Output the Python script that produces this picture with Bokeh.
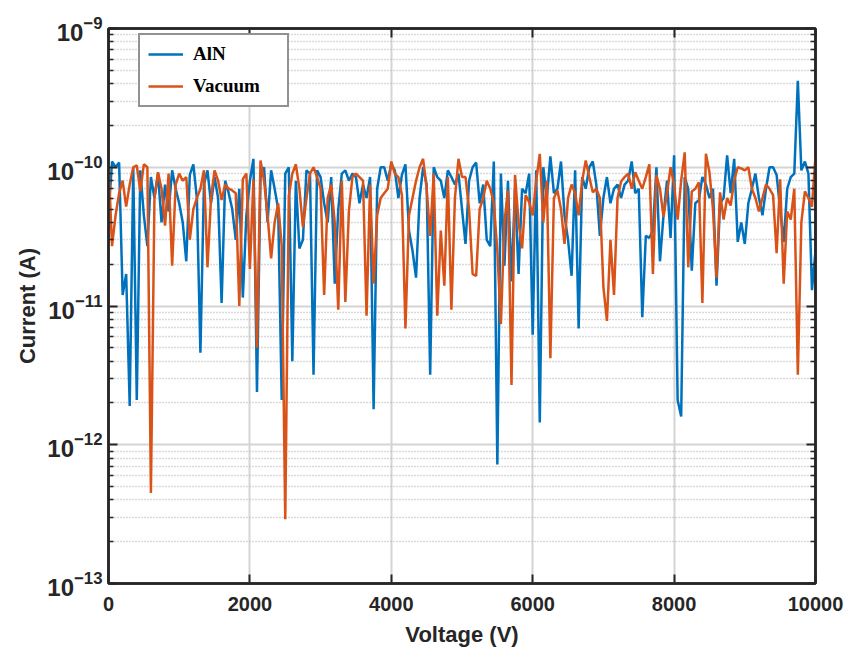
from bokeh.plotting import figure
from bokeh.models import (Range1d, LinearAxis, LogAxis, FixedTicker, Legend,
                          LegendItem)
from bokeh.embed import file_html
from bokeh.resources import INLINE

# Sweep voltage (V), one reading every 50 V
voltage = list(range(0, 10001, 50))

# Leakage current in pA for each voltage step
aln_pA = [
    45, 110, 100, 108, 12, 17, 1.9, 100, 2.1, 95,
    45, 27, 85, 60, 90, 40, 75, 48, 95, 70,
    55, 40, 21, 88, 105, 60, 4.6, 75, 95, 55,
    85, 60, 10.5, 80, 65, 50, 30, 70, 11.5, 45,
    80, 115, 2.4, 85, 100, 40, 95, 70, 50, 2.1,
    90, 100, 4, 80, 26, 30, 95, 90, 3.2, 95,
    85, 55, 40, 85, 14.5, 50, 90, 95, 80, 90,
    85, 55, 75, 60, 85, 1.8, 70, 100, 100, 80,
    105, 95, 60, 88, 105, 35, 25, 16, 60, 100,
    75, 3.2, 100, 85, 80, 60, 95, 85, 75, 90,
    50, 28, 80, 100, 108, 55, 75, 30, 27, 110,
    0.72, 90, 19.5, 80, 15, 70, 17, 70, 65, 90,
    6.2, 95, 1.45, 100, 60, 120, 65, 70, 110, 45,
    30, 16.5, 95, 6.9, 85, 70, 100, 110, 75, 32,
    60, 85, 55, 70, 75, 60, 75, 80, 110, 65,
    70, 8.3, 32, 31, 35, 100, 21, 45, 80, 31,
    122, 2.1, 1.6, 85, 70, 18, 55, 58, 85, 75,
    60, 70, 14, 55, 60, 122, 65, 115, 29, 40,
    28, 55, 70, 90, 60, 45, 70, 100, 100, 88,
    50, 29, 70, 85, 90, 420, 95, 110, 90, 13,
    25,
]

vacuum_pA = [
    110, 27, 45, 65, 80, 52, 75, 100, 103, 67,
    105, 100, 0.45, 60, 92, 70, 38, 90, 19.5, 75,
    90, 80, 85, 30, 50, 60, 70, 95, 19, 60,
    95, 80, 58, 75, 70, 68, 65, 10, 82, 90,
    18.5, 82, 5, 112, 80, 45, 22, 40, 55, 27,
    0.29, 62, 90, 105, 70, 37, 60, 90, 100, 85,
    70, 12, 60, 75, 40, 9.4, 80, 10.7, 48, 85,
    90, 85, 80, 8.5, 75, 14.5, 45, 60, 65, 70,
    110, 90, 85, 63, 6.9, 45, 60, 80, 100, 115,
    70, 32, 90, 8.5, 35, 14, 85, 9.4, 60, 115,
    85, 85, 50, 17, 16.5, 50, 60, 80, 70, 55,
    25, 7.4, 40, 68, 2.7, 88, 40, 26, 63, 56,
    45, 80, 125, 40, 80, 4.2, 60, 68, 50, 28,
    60, 75, 65, 45, 80, 112, 85, 66, 70, 60,
    13.7, 7.8, 30, 12, 60, 79, 85, 90, 70, 92,
    80, 70, 85, 105, 17, 88, 70, 44, 65, 100,
    75, 42, 80, 128, 19, 67, 70, 78, 10.5, 125,
    92, 50, 16, 66, 42, 60, 53, 80, 100, 98,
    95, 100, 70, 60, 48, 60, 75, 70, 63, 24,
    82, 14.5, 48, 42, 70, 3.2, 40, 67, 60, 52,
    120,
]

x_ticks = [0, 2000, 4000, 6000, 8000, 10000]
decades = [-13, -12, -11, -10, -9]

aln = [v * 1e-12 for v in aln_pA]
vacuum = [v * 1e-12 for v in vacuum_pA]

y_major = [10.0 ** d for d in decades]
y_minor = [m * 10.0 ** d for d in decades[:-1] for m in range(2, 10)]

x_ticker = FixedTicker(ticks=x_ticks, minor_ticks=[])
y_ticker = FixedTicker(ticks=y_major, minor_ticks=y_minor)

INK = "#262626"
SANS = "Liberation Sans"

p = figure(
    frame_width=707, frame_height=555,
    x_range=Range1d(0, 10000), y_range=Range1d(1e-13, 1e-9),
    y_axis_type="log",
    output_backend="svg", toolbar_location=None,
    min_border_left=108, min_border_right=37,
    min_border_top=28, min_border_bottom=74,
    background_fill_color="white", border_fill_color="white",
)

bottom_axis = p.below[0]
left_axis = p.left[0]
bottom_axis.ticker = x_ticker
left_axis.ticker = y_ticker
p.xgrid.ticker = x_ticker
p.ygrid.ticker = y_ticker

# grid: solid major lines, dotted minor lines on the log axis
p.xgrid.grid_line_color = "#d4d4d4"
p.xgrid.grid_line_width = 2
p.ygrid.grid_line_color = "#d4d4d4"
p.ygrid.grid_line_width = 2
p.ygrid.minor_grid_line_color = "#b4b4b4"
p.ygrid.minor_grid_line_dash = "1 2"
p.ygrid.minor_grid_line_width = 1.3

# box axes on top and right, ticks only
top_axis = LinearAxis(ticker=x_ticker)
right_axis = LogAxis(ticker=y_ticker)
p.add_layout(top_axis, "above")
p.add_layout(right_axis, "right")

for ax in [bottom_axis, left_axis, top_axis, right_axis]:
    ax.axis_line_color = INK
    ax.axis_line_width = 2.5
    ax.major_tick_line_color = INK
    ax.major_tick_line_width = 2
    ax.major_tick_in = 9
    ax.major_tick_out = 0
    ax.minor_tick_line_color = INK
    ax.minor_tick_line_width = 1.5
    ax.minor_tick_in = 5
    ax.minor_tick_out = 0
    ax.major_label_text_font = SANS
    ax.major_label_text_font_style = "bold"
    ax.major_label_text_color = INK

for ax in [top_axis, right_axis]:
    ax.major_label_text_font_size = "0px"
    ax.major_label_text_alpha = 0
    ax.major_label_standoff = 0

bottom_axis.major_label_text_font_size = "20px"
bottom_axis.major_label_standoff = 13
left_axis.major_label_text_font_size = "24px"
left_axis.major_label_standoff = 6

bottom_axis.axis_label = "Voltage (V)"
left_axis.axis_label = "Current (A)"
for ax in [bottom_axis, left_axis]:
    ax.axis_label_text_font = SANS
    ax.axis_label_text_font_style = "bold"
    ax.axis_label_text_font_size = "22px"
    ax.axis_label_text_color = INK
bottom_axis.axis_label_standoff = 8
left_axis.axis_label_standoff = 4

p.outline_line_color = INK
p.outline_line_width = 2.5

r_aln = p.line(voltage, aln, line_color="#0072BD", line_width=2.5)
r_vac = p.line(voltage, vacuum, line_color="#D95319", line_width=2.5)

legend = Legend(
    items=[LegendItem(label="AlN", renderers=[r_aln]),
           LegendItem(label="Vacuum", renderers=[r_vac])],
    location=(30, 476),
    label_text_font="Liberation Serif",
    label_text_font_style="bold",
    label_text_font_size="19px",
    label_text_color="black",
    border_line_color=INK,
    border_line_width=2,
    background_fill_color="white",
    background_fill_alpha=1,
    padding=8, spacing=10, margin=0,
    label_height=20, glyph_height=20, glyph_width=35,
    label_standoff=10, label_width=86,
)
p.add_layout(legend)

open("out.html", "w").write(file_html(p, INLINE))
